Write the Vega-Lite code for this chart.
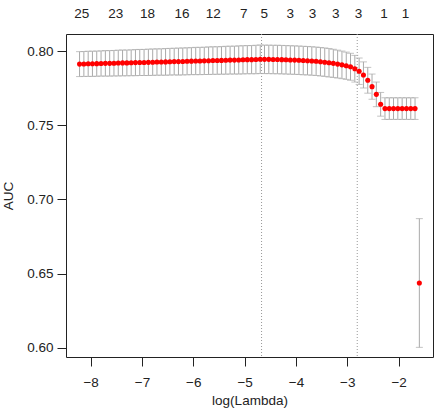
{
  "$schema": "https://vega.github.io/schema/vega-lite/v6.json",
  "width": 367,
  "height": 323,
  "autosize": {"type": "none"},
  "padding": {"left": 66, "top": 34, "right": 14, "bottom": 51},
  "config": {
    "view": {"stroke": "#222", "strokeWidth": 1},
    "axis": {
      "labelFont": "Liberation Sans",
      "titleFont": "Liberation Sans",
      "labelFontSize": 13.5,
      "titleFontSize": 13.5,
      "titleFontWeight": "normal",
      "labelColor": "#222",
      "titleColor": "#222",
      "tickColor": "#222",
      "grid": false,
      "domain": false
    }
  },
  "data": {
    "values": [
      {"loglam": -8.216, "auc": 0.7912, "se": 0.0084},
      {"loglam": -8.132, "auc": 0.7913, "se": 0.0084},
      {"loglam": -8.048, "auc": 0.7914, "se": 0.0085},
      {"loglam": -7.965, "auc": 0.7914, "se": 0.0085},
      {"loglam": -7.881, "auc": 0.7915, "se": 0.0085},
      {"loglam": -7.797, "auc": 0.7916, "se": 0.0085},
      {"loglam": -7.713, "auc": 0.7917, "se": 0.0086},
      {"loglam": -7.629, "auc": 0.7917, "se": 0.0086},
      {"loglam": -7.546, "auc": 0.7918, "se": 0.0086},
      {"loglam": -7.462, "auc": 0.7919, "se": 0.0087},
      {"loglam": -7.378, "auc": 0.7920, "se": 0.0087},
      {"loglam": -7.294, "auc": 0.7920, "se": 0.0087},
      {"loglam": -7.210, "auc": 0.7921, "se": 0.0087},
      {"loglam": -7.127, "auc": 0.7922, "se": 0.0088},
      {"loglam": -7.043, "auc": 0.7923, "se": 0.0088},
      {"loglam": -6.959, "auc": 0.7923, "se": 0.0088},
      {"loglam": -6.875, "auc": 0.7924, "se": 0.0089},
      {"loglam": -6.791, "auc": 0.7925, "se": 0.0089},
      {"loglam": -6.708, "auc": 0.7926, "se": 0.0089},
      {"loglam": -6.624, "auc": 0.7926, "se": 0.0089},
      {"loglam": -6.540, "auc": 0.7927, "se": 0.0090},
      {"loglam": -6.456, "auc": 0.7928, "se": 0.0090},
      {"loglam": -6.372, "auc": 0.7929, "se": 0.0090},
      {"loglam": -6.289, "auc": 0.7929, "se": 0.0091},
      {"loglam": -6.205, "auc": 0.7930, "se": 0.0091},
      {"loglam": -6.121, "auc": 0.7931, "se": 0.0091},
      {"loglam": -6.037, "auc": 0.7932, "se": 0.0091},
      {"loglam": -5.953, "auc": 0.7933, "se": 0.0092},
      {"loglam": -5.870, "auc": 0.7933, "se": 0.0092},
      {"loglam": -5.786, "auc": 0.7934, "se": 0.0092},
      {"loglam": -5.702, "auc": 0.7935, "se": 0.0093},
      {"loglam": -5.618, "auc": 0.7936, "se": 0.0093},
      {"loglam": -5.534, "auc": 0.7936, "se": 0.0093},
      {"loglam": -5.451, "auc": 0.7937, "se": 0.0093},
      {"loglam": -5.367, "auc": 0.7938, "se": 0.0094},
      {"loglam": -5.283, "auc": 0.7939, "se": 0.0094},
      {"loglam": -5.199, "auc": 0.7939, "se": 0.0094},
      {"loglam": -5.115, "auc": 0.7940, "se": 0.0095},
      {"loglam": -5.032, "auc": 0.7941, "se": 0.0095},
      {"loglam": -4.948, "auc": 0.7942, "se": 0.0095},
      {"loglam": -4.864, "auc": 0.7942, "se": 0.0095},
      {"loglam": -4.780, "auc": 0.7943, "se": 0.0096},
      {"loglam": -4.696, "auc": 0.7945, "se": 0.0096},
      {"loglam": -4.613, "auc": 0.7944, "se": 0.0096},
      {"loglam": -4.529, "auc": 0.7944, "se": 0.0096},
      {"loglam": -4.445, "auc": 0.7943, "se": 0.0096},
      {"loglam": -4.361, "auc": 0.7943, "se": 0.0096},
      {"loglam": -4.277, "auc": 0.7942, "se": 0.0096},
      {"loglam": -4.194, "auc": 0.7941, "se": 0.0096},
      {"loglam": -4.110, "auc": 0.7940, "se": 0.0096},
      {"loglam": -4.026, "auc": 0.7939, "se": 0.0096},
      {"loglam": -3.942, "auc": 0.7938, "se": 0.0096},
      {"loglam": -3.858, "auc": 0.7936, "se": 0.0096},
      {"loglam": -3.775, "auc": 0.7935, "se": 0.0096},
      {"loglam": -3.691, "auc": 0.7933, "se": 0.0096},
      {"loglam": -3.607, "auc": 0.7931, "se": 0.0096},
      {"loglam": -3.523, "auc": 0.7928, "se": 0.0096},
      {"loglam": -3.439, "auc": 0.7925, "se": 0.0096},
      {"loglam": -3.356, "auc": 0.7921, "se": 0.0096},
      {"loglam": -3.272, "auc": 0.7917, "se": 0.0095},
      {"loglam": -3.188, "auc": 0.7912, "se": 0.0094},
      {"loglam": -3.104, "auc": 0.7907, "se": 0.0093},
      {"loglam": -3.020, "auc": 0.7901, "se": 0.0092},
      {"loglam": -2.937, "auc": 0.7894, "se": 0.0091},
      {"loglam": -2.853, "auc": 0.7881, "se": 0.0090},
      {"loglam": -2.769, "auc": 0.7864, "se": 0.0089},
      {"loglam": -2.685, "auc": 0.7839, "se": 0.0088},
      {"loglam": -2.601, "auc": 0.7803, "se": 0.0087},
      {"loglam": -2.518, "auc": 0.7760, "se": 0.0085},
      {"loglam": -2.434, "auc": 0.7708, "se": 0.0083},
      {"loglam": -2.350, "auc": 0.7641, "se": 0.0080},
      {"loglam": -2.266, "auc": 0.7612, "se": 0.0073},
      {"loglam": -2.182, "auc": 0.7612, "se": 0.0073},
      {"loglam": -2.099, "auc": 0.7612, "se": 0.0073},
      {"loglam": -2.015, "auc": 0.7612, "se": 0.0073},
      {"loglam": -1.931, "auc": 0.7612, "se": 0.0073},
      {"loglam": -1.847, "auc": 0.7612, "se": 0.0073},
      {"loglam": -1.763, "auc": 0.7612, "se": 0.0073},
      {"loglam": -1.680, "auc": 0.7612, "se": 0.0073},
      {"loglam": -1.596, "auc": 0.6436, "se": 0.0434}
    ]
  },
  "resolve": {"axis": {"x": "independent", "y": "independent"}},
  "layer": [
    {
      "data": {"values": [{"loglam": -4.67}, {"loglam": -2.806}]},
      "mark": {"type": "rule", "color": "#999", "strokeDash": [1, 2], "strokeWidth": 1},
      "encoding": {
        "x": {"field": "loglam", "type": "quantitative", "axis": null,
              "scale": {"domain": [-8.48, -1.33], "nice": false, "zero": false}}
      }
    },
    {
      "mark": {"type": "errorbar", "color": "#a9a9a9", "thickness": 1, "ticks": {"size": 7, "thickness": 1}},
      "encoding": {
        "x": {
          "field": "loglam", "type": "quantitative",
          "scale": {"domain": [-8.48, -1.33], "nice": false, "zero": false},
          "axis": {"orient": "bottom", "values": [-8, -7, -6, -5, -4, -3, -2], "format": "d",
                   "tickSize": 9, "labelPadding": 9, "title": "log(Lambda)", "titlePadding": 5}
        },
        "y": {"field": "auc", "type": "quantitative", "axis": null,
              "scale": {"domain": [0.5937, 0.8115], "nice": false, "zero": false}},
        "yError": {"field": "se"}
      }
    },
    {
      "mark": {"type": "circle", "color": "#ff0000", "size": 26, "opacity": 1},
      "encoding": {
        "x": {
          "field": "loglam", "type": "quantitative",
          "scale": {"domain": [-8.48, -1.33], "nice": false, "zero": false},
          "axis": {
            "orient": "top", "title": null, "ticks": false, "tickSize": 0, "labelPadding": 14,
            "labelOverlap": false, "labelFlush": false,
            "values": [-8.184, -7.518, -6.903, -6.229, -5.621, -5.025, -4.625, -4.12, -3.685, -3.233, -2.792, -2.295, -1.874],
            "labelExpr": "['25','23','18','16','12','7','5','3','3','3','3','1','1'][indexof([-8.184, -7.518, -6.903, -6.229, -5.621, -5.025, -4.625, -4.12, -3.685, -3.233, -2.792, -2.295, -1.874], datum.value)]"
          }
        },
        "y": {
          "field": "auc", "type": "quantitative",
          "scale": {"domain": [0.5937, 0.8115], "nice": false, "zero": false},
          "axis": {"values": [0.6, 0.65, 0.7, 0.75, 0.8], "format": ".2f", "tickSize": 9,
                   "labelPadding": 4, "title": "AUC", "titlePadding": 11}
        }
      }
    }
  ]
}
